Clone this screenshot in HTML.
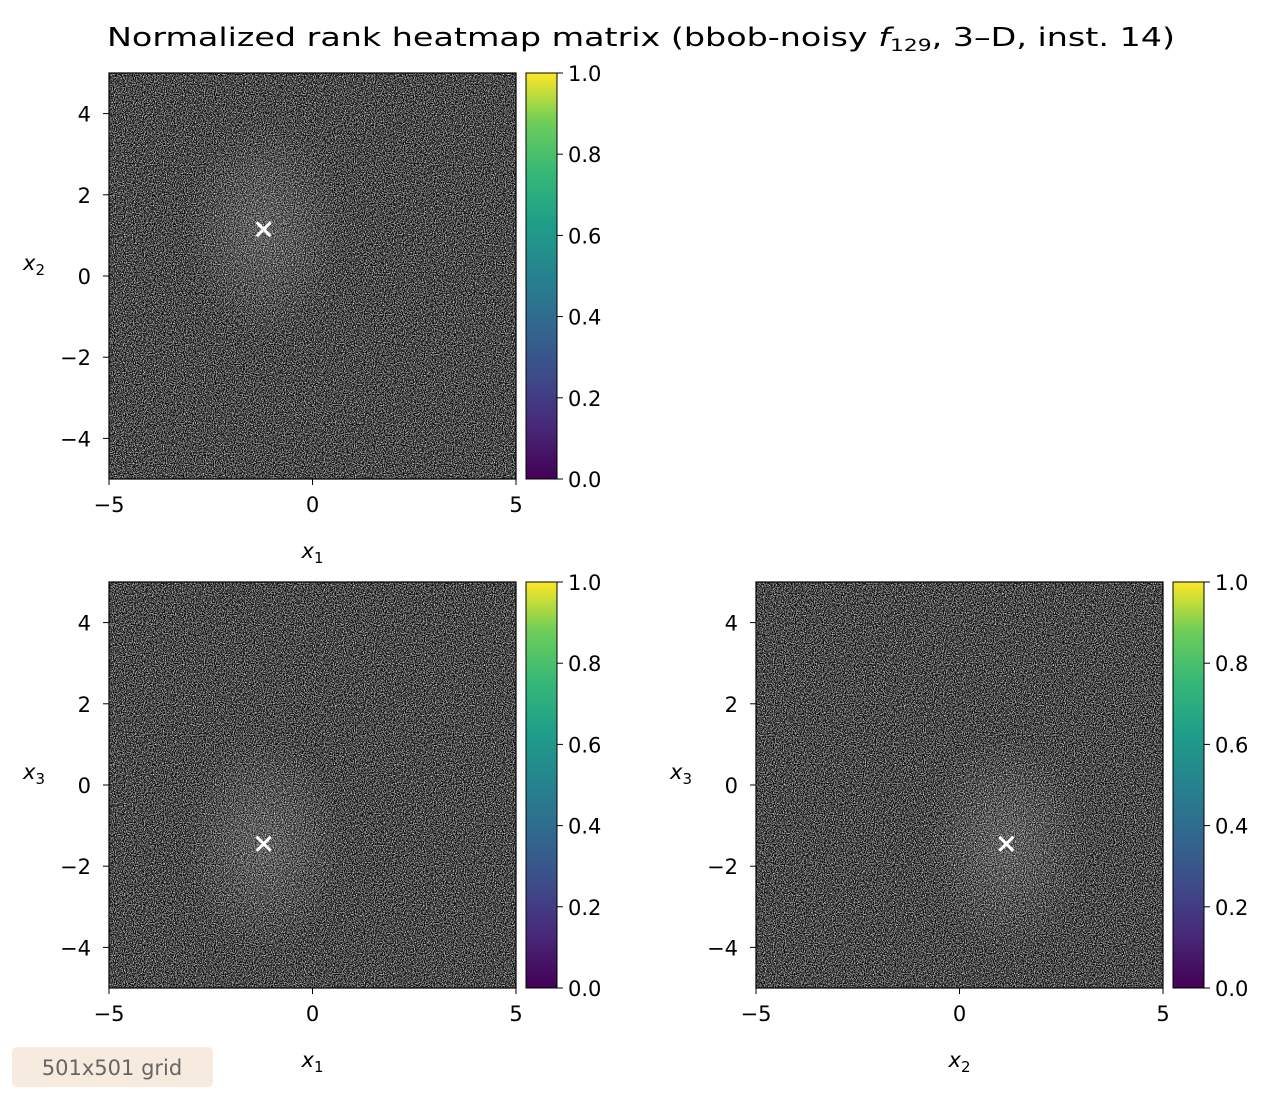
<!DOCTYPE html>
<html><head><meta charset="utf-8"><style>
body{margin:0;background:#fff;width:1288px;height:1102px;overflow:hidden;font-family:"Liberation Sans","DejaVu Sans",sans-serif}
</style></head><body>
<svg id="fig" width="1288" height="1102" xmlns="http://www.w3.org/2000/svg" font-family="DejaVu Sans, Liberation Sans, sans-serif">
<defs>
<filter id="noise" x="0" y="0" width="100%" height="100%" color-interpolation-filters="sRGB">
<feTurbulence type="fractalNoise" baseFrequency="0.9" numOctaves="2" seed="3" result="t"/>
<feColorMatrix in="t" type="matrix" values="2.0 0 0 0 -0.72  2.0 0 0 0 -0.72  2.0 0 0 0 -0.72  0 0 0 0 1"/>
</filter>
<linearGradient id="vir" x1="0" y1="1" x2="0" y2="0">
<stop offset="0" stop-color="#440154"/><stop offset="0.13" stop-color="#482878"/><stop offset="0.25" stop-color="#3e4a89"/><stop offset="0.38" stop-color="#31688e"/><stop offset="0.5" stop-color="#26828e"/><stop offset="0.63" stop-color="#1f9e89"/><stop offset="0.75" stop-color="#35b779"/><stop offset="0.88" stop-color="#6ece58"/><stop offset="1" stop-color="#fde725"/>
</linearGradient>
<radialGradient id="glow"><stop offset="0" stop-color="#fff" stop-opacity="0.14"/><stop offset="1" stop-color="#fff" stop-opacity="0"/></radialGradient>
</defs>
<text x="107" y="46" font-size="26" textLength="1068" lengthAdjust="spacingAndGlyphs">Normalized rank heatmap matrix (bbob-noisy <tspan font-style="italic">f</tspan><tspan font-size="17" dy="5">129</tspan><tspan dy="-5">, 3–D, inst. 14)</tspan></text>
<g id="panels"></g>
<rect x="12" y="1047" width="201" height="40" rx="5" fill="#f7ebdf"/>
<text x="112" y="1075" text-anchor="middle" font-size="21" fill="#666">501x501 grid</text>
</svg>
<script>
const axisTicks=[-4,-2,0,2,4];
const xTicks=[-5,0,5];
const cbTicks=[0,0.2,0.4,0.6,0.8,1.0];
const panelLabels=[["1","2"],["1","3"],["2","3"]];
const markerX=[-1.2,-1.2,1.15];
const markerY=[1.15,-1.45,-1.45];
const panelPos=[[109,73],[109,582],[756,582]];
const NS="http://www.w3.org/2000/svg";
const g=document.getElementById('panels');
function mk(t,a,p){const e=document.createElementNS(NS,t);for(const k in a)e.setAttribute(k,a[k]);(p||g).appendChild(e);return e;}
const W=407,H=406;
panelPos.forEach((pp,i)=>{
 const [x0,y0]=pp;
 const sx=v=>x0+(v+5)/10*W, sy=v=>y0+H-(v+5)/10*H;
 const grp=mk('g',{});
 
 
 const hm=mk('rect',{x:x0,y:y0,width:W,height:H,fill:'#000',filter:'url(#noise)'},grp);
 
 
 mk('ellipse',{cx:sx(markerX[i]),cy:sy(markerY[i]),rx:80,ry:110,fill:'url(#glow)'},grp);
 mk('rect',{x:x0,y:y0,width:W,height:H,fill:'none',stroke:'#000','stroke-width':1.2},grp);
 const mx=sx(markerX[i]),my=sy(markerY[i]);
 const m=mk('path',{d:`M${mx-7},${my-7}L${mx+7},${my+7}M${mx-7},${my+7}L${mx+7},${my-7}`,stroke:'#fff','stroke-width':3},grp);
 
 
 xTicks.forEach(v=>{mk('line',{x1:sx(v),x2:sx(v),y1:y0+H,y2:y0+H+6,stroke:'#000'},grp);
  const t=mk('text',{x:sx(v),y:y0+H+33,'text-anchor':'middle','font-size':21},grp);t.textContent=v<0?'−'+(-v):v;
  });
 axisTicks.forEach(v=>{mk('line',{x1:x0-6,x2:x0,y1:sy(v),y2:sy(v),stroke:'#000'},grp);
  const t=mk('text',{x:x0-18,y:sy(v)+8,'text-anchor':'end','font-size':21},grp);t.textContent=v<0?'−'+(-v):v;
  });
 const xl=mk('text',{x:x0+W/2,y:y0+H+79,'text-anchor':'middle','font-size':21,'font-style':'italic'},grp);
 xl.innerHTML='x<tspan font-size="15" dy="5" font-style="normal">'+panelLabels[i][0]+'</tspan>';
 
 const yl=mk('text',{x:x0-86,y:y0+H/2-6,'text-anchor':'start','font-size':21,'font-style':'italic'},grp);
 yl.innerHTML='x<tspan font-size="15" dy="5" font-style="normal">'+panelLabels[i][1]+'</tspan>';
 
 const cx=x0+W+10;
 const cb=mk('rect',{x:cx,y:y0,width:31,height:H,fill:'url(#vir)',stroke:'#000','stroke-width':1},grp);
 
 cbTicks.forEach(v=>{const y=y0+H-v*H;mk('line',{x1:cx+31,x2:cx+37,y1:y,y2:y,stroke:'#000'},grp);
  const t=mk('text',{x:cx+42,y:y+8,'font-size':21},grp);t.textContent=v.toFixed(1);
  });
});
</script>
</body></html>
